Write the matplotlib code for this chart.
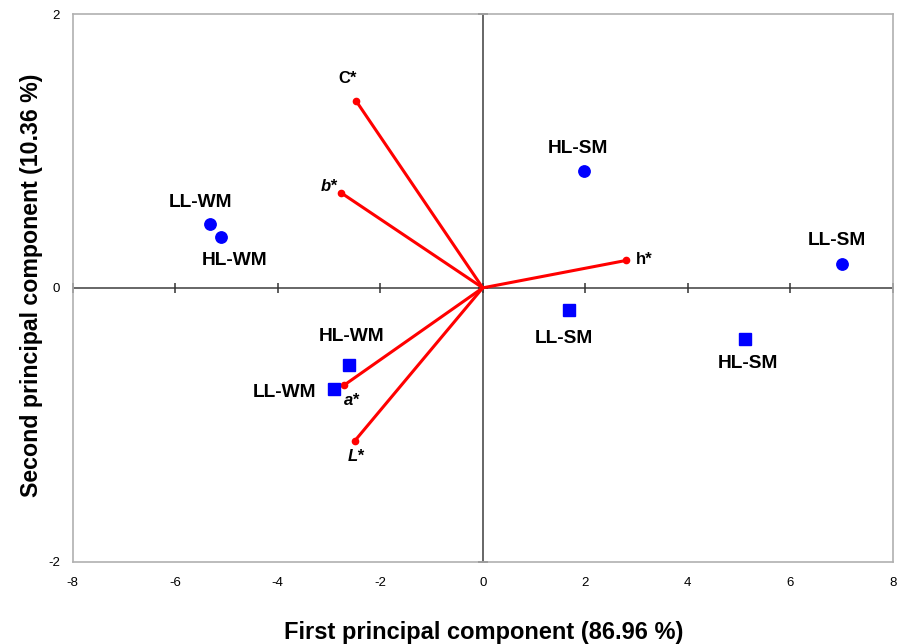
import numpy as np
import matplotlib
matplotlib.use("Agg")
import matplotlib.pyplot as plt

plt.rcParams['font.family'] = ['Liberation Sans', 'DejaVu Sans']
plt.rcParams['axes.unicode_minus'] = False

# sample scores (circles and squares), first and second principal component
circle_names = ['LL-WM', 'HL-WM', 'HL-SM', 'LL-SM']
circle_pc1 = [-5.32, -5.10, 1.97, 7.00]
circle_pc2 = [0.47, 0.37, 0.855, 0.175]

square_names = ['HL-WM', 'LL-WM', 'LL-SM', 'HL-SM']
square_pc1 = [-2.61, -2.90, 1.69, 5.12]
square_pc2 = [-0.56, -0.74, -0.16, -0.37]

# colour loadings
var_names = ['C*', 'b*', 'h*', 'a*', 'L*']
var_pc1 = [-2.47, -2.76, 2.79, -2.70, -2.50]
var_pc2 = [1.366, 0.694, 0.20, -0.71, -1.12]

x_ticks = [-8, -6, -4, -2, 0, 2, 4, 6, 8]
y_ticks = [-2, 0, 2]

# label offsets in points (dx, dy, ha)
circle_offsets = [(-6.5, 15.4, 'center'), (9.7, -16.6, 'center'),
                  (-4.3, 16.1, 'center'), (-3.7, 17.0, 'center')]
square_offsets = [(2.2, 19.9, 'center'), (-13.0, -2.7, 'right'),
                  (-3.8, -20.9, 'center'), (2.0, -18.2, 'center')]
var_offsets = [(-6.5, 16.0, 'center'), (-3.0, 4.5, 'right'),
               (7.0, 0.7, 'left'), (5.5, -11.0, 'center'), (1.3, -11.3, 'center')]
var_italic = [False, True, False, True, True]

fig = plt.figure(figsize=(9.02, 6.44), dpi=100)
ax = fig.add_axes([0.0804, 0.128, 0.9096, 0.850])

ax.set_xlim(-8, 8)
ax.set_ylim(-2, 2)
ax.set_xticks(x_ticks)
ax.set_yticks(y_ticks)
ax.tick_params(length=0, labelsize=9.5)
ax.tick_params(axis='x', pad=11)
ax.tick_params(axis='y', pad=9)
for s in ax.spines.values():
    s.set_color('#b0b0b0')
    s.set_linewidth(1.2)

# centre axes with crossing tick marks
ax.axhline(0, color='#5a5a5a', lw=1.3, zorder=1)
ax.axvline(0, color='#5a5a5a', lw=1.3, zorder=1)
ax.plot(x_ticks, np.zeros(len(x_ticks)), ls='none', marker='|', ms=6.5,
        mew=1.1, color='#333333', zorder=1, clip_on=False)
ax.plot(np.zeros(len(y_ticks)), y_ticks, ls='none', marker='_', ms=6.5,
        mew=1.3, color='#333333', zorder=1, clip_on=False)

# loading vectors
for i in range(len(var_names)):
    ax.plot([0, var_pc1[i]], [0, var_pc2[i]], color='red', lw=2.2,
            solid_capstyle='round', zorder=2)
ax.plot(var_pc1, var_pc2, ls='none', marker='o', ms=4.5, color='red', zorder=3)
for i, name in enumerate(var_names):
    dx, dy, ha = var_offsets[i]
    ax.annotate(name, (var_pc1[i], var_pc2[i]), xytext=(dx, dy),
                textcoords='offset points', ha=ha, va='center',
                fontsize=12, fontweight='bold',
                fontstyle='italic' if var_italic[i] else 'normal')

# sample points
ax.plot(circle_pc1, circle_pc2, ls='none', marker='o', ms=8.2, color='#0000ff', zorder=4)
ax.plot(square_pc1, square_pc2, ls='none', marker='s', ms=8.0, color='#0000ff', zorder=4)

for i, name in enumerate(circle_names):
    dx, dy, ha = circle_offsets[i]
    ax.annotate(name, (circle_pc1[i], circle_pc2[i]), xytext=(dx, dy),
                textcoords='offset points', ha=ha, va='center',
                fontsize=13.8, fontweight='bold')
for i, name in enumerate(square_names):
    dx, dy, ha = square_offsets[i]
    ax.annotate(name, (square_pc1[i], square_pc2[i]), xytext=(dx, dy),
                textcoords='offset points', ha=ha, va='center',
                fontsize=13.8, fontweight='bold')

ax.set_xlabel('First principal component (86.96 %)', fontsize=17, fontweight='bold')
ax.set_ylabel('Second principal component (10.36 %)', fontsize=16.7, fontweight='bold')
ax.xaxis.set_label_coords(0.5015, -0.108)
ax.yaxis.set_label_coords(-0.036, 0.504)

fig.savefig('out.png', dpi=100)
